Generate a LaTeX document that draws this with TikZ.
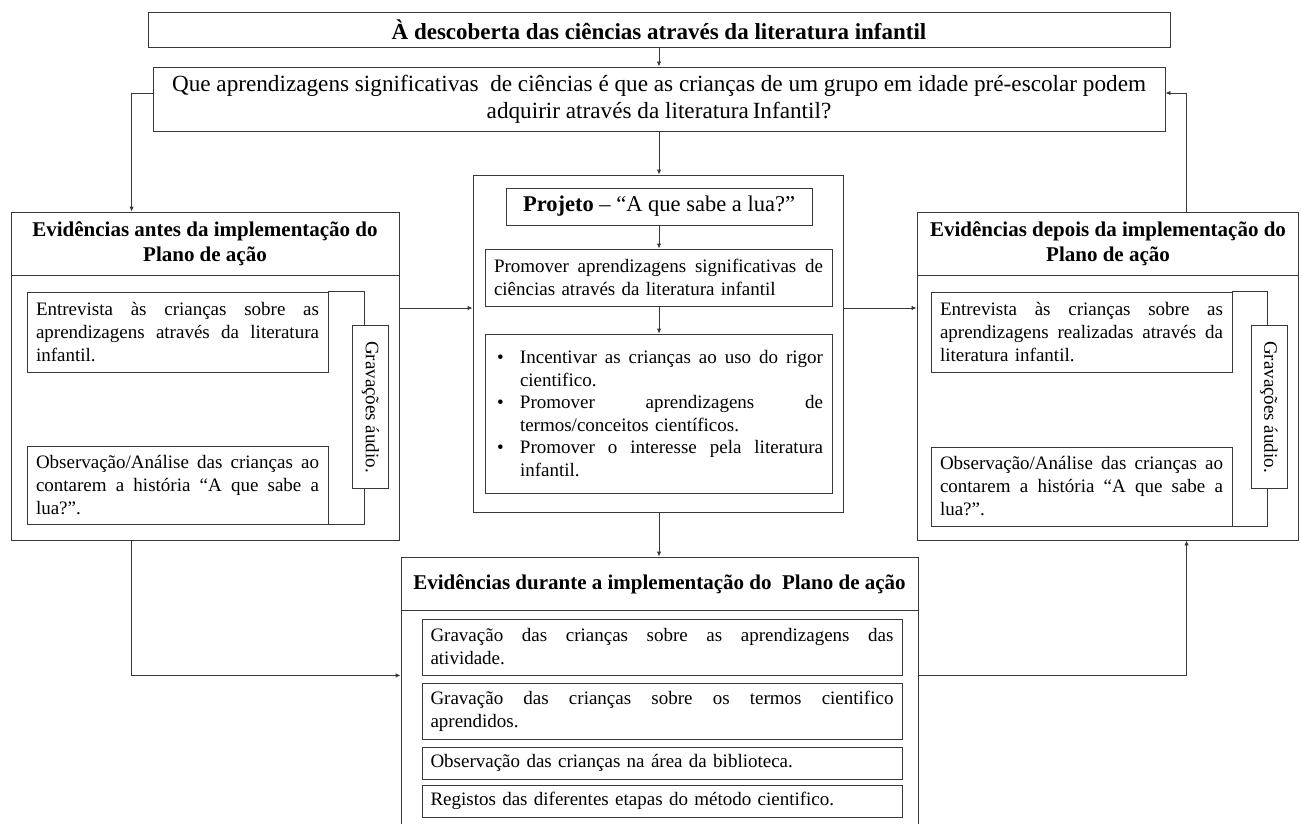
\documentclass[tikz,border=0pt]{standalone}
\usepackage{fontspec}
\setmainfont{Liberation Serif}
\usetikzlibrary{arrows.meta,calc}
\newcommand{\J}[2]{\makebox[#1][s]{\spaceskip=0pt\xspaceskip=0pt\relax #2}}
\begin{document}
\begin{tikzpicture}[x=1pt,y=-1pt,
  line/.style={draw=black!78,line width=0.9pt},
  arr/.style={line,-{Latex[length=5pt,width=4.5pt]}},
  box/.style={line,rectangle,inner sep=0pt,anchor=center},
  body/.style={font=\fontsize{19}{23}\selectfont},
  head/.style={font=\bfseries\fontsize{21}{25}\selectfont,align=center,inner sep=0pt},
  sub/.style={box,fill=white,minimum width=301pt,text width=283pt,align=left,body},
  grav/.style={box,fill=white,minimum width=163pt,minimum height=36pt,rotate=-90,body}
]
\useasboundingbox (0,0) rectangle (1301,824);

% title and question
\node[box,minimum width=1022pt,minimum height=35pt,font=\bfseries\fontsize{23}{27}\selectfont] (title) at (659,29.5) {À descoberta das ciências através da literatura infantil};
\node[box,minimum width=1012pt,minimum height=64pt,align=center,font=\fontsize{23.2}{27}\selectfont] (q) at (659,99)
 {Que aprendizagens significativas~ de ciências é que as crianças de um grupo em idade pré-escolar podem\\adquirir através da literatura\,Infantil?};

% left box
\node[box,minimum width=388pt,minimum height=328pt] (lbox) at (205,376) {};
\node[head] (lhead) at (205,244) {Evidências antes da implementação do\\Plano de ação};
\draw[line] ($(lbox.north west)+(0,64)$) -- ($(lbox.north east)+(0,64)$);
\node[sub,minimum height=80pt] (lent) at (177.5,332)
 {\J{283pt}{Entrevista às crianças sobre as}\\\J{283pt}{aprendizagens através da literatura}\\infantil.};
\node[sub,minimum height=78pt] (lobs) at (177.5,485)
 {\J{283pt}{Observação/Análise das crianças ao}\\\J{283pt}{contarem a história “A que sabe a}\\lua?”.};
\draw[line] (lent.north east) -- ++(36,0) |- (lobs.south east);
\node[grav] (lgrav) at (370.5,407) {Gravações áudio.};

% center box
\node[box,minimum width=370pt,minimum height=337pt] (cbox) at (658,343.5) {};
\node[box,minimum width=306pt,minimum height=37pt,font=\fontsize{22.5}{26}\selectfont] (proj) at (659,206.5) {\textbf{Projeto} – “A que sabe a lua?”};
\node[box,minimum width=347pt,minimum height=57pt,text width=329pt,align=left,body] (prom) at (658.5,277.5)
 {\J{329pt}{Promover aprendizagens significativas de}\\ciências através da literatura infantil};
\node[box,minimum width=347pt,minimum height=159pt,text width=329pt,align=left,font=\fontsize{19}{22.5}\selectfont] (bul) at (658.5,413.5)
 {\hspace*{3pt}\makebox[23pt][l]{•}\J{303pt}{Incentivar as crianças ao uso do rigor}\\
  \hspace*{26pt}cientifico.\\
  \hspace*{3pt}\makebox[23pt][l]{•}\J{303pt}{Promover aprendizagens de}\\
  \hspace*{26pt}termos/conceitos científicos.\\
  \hspace*{3pt}\makebox[23pt][l]{•}\J{303pt}{Promover o interesse pela literatura}\\
  \hspace*{26pt}infantil.};
\draw[arr] (proj.south) -- (prom.north -| proj.south);
\draw[arr] (prom.south -| proj.south) -- (bul.north -| proj.south);

% right box
\node[box,minimum width=381pt,minimum height=328pt] (rbox) at (1107.5,376) {};
\node[head] (rhead) at (1108,244) {Evidências depois da implementação do\\Plano de ação};
\draw[line] ($(rbox.north west)+(0,64)$) -- ($(rbox.north east)+(0,64)$);
\node[sub,minimum height=80pt] (rent) at (1081.5,332)
 {\J{283pt}{Entrevista às crianças sobre as}\\\J{283pt}{aprendizagens realizadas através da}\\literatura infantil.};
\node[sub,minimum height=79pt] (robs) at (1081.5,486.5)
 {\J{283pt}{Observação/Análise das crianças ao}\\\J{283pt}{contarem a história “A que sabe a}\\lua?”.};
\draw[line] (rent.north east) -- ++(35,0) |- (robs.south east);
\node[grav] (rgrav) at (1269,407) {Gravações áudio.};

% bottom box
\node[box,minimum width=517pt,minimum height=273pt] (bbox) at (659.5,693.5) {};
\node[head] (bhead) at (659.5,584) {Evidências durante a implementação do~ Plano de ação};
\draw[line] ($(bbox.north west)+(0,54)$) -- ($(bbox.north east)+(0,54)$);
\node[sub,minimum width=480pt,text width=463pt,minimum height=56pt] (bs1) at (662,647)
 {\J{463pt}{Gravação das crianças sobre as aprendizagens das}\\atividade.};
\node[sub,minimum width=480pt,text width=463pt,minimum height=56pt] (bs2) at (662,711)
 {\J{463pt}{Gravação das crianças sobre os termos cientifico}\\aprendidos.};
\node[sub,minimum width=480pt,text width=463pt,minimum height=32pt] (bs3) at (662,763)
 {Observação das crianças na área da biblioteca.};
\node[sub,minimum width=480pt,text width=463pt,minimum height=32pt] (bs4) at (662,801)
 {Registos das diferentes etapas do método cientifico.};

% connectors
\draw[arr] (title.south -| q.north) -- (q.north);
\draw[arr] ([yshift=6pt]q.west) -| ([xshift=121pt]lbox.north west);
\draw[arr] ([xshift=270pt]rbox.north west) |- ([yshift=6pt]q.east);
\draw[arr] (q.south) -- (cbox.north -| q.south);
\draw[arr] ([yshift=68pt]lbox.east) -- ([yshift=68pt]lbox.east -| cbox.west);
\draw[arr] ([yshift=68pt]lbox.east -| cbox.east) -- ([yshift=68pt]lbox.east -| rbox.west);
\draw[arr] (cbox.south -| q.south) -- (bbox.north -| q.south);
\draw[arr] ([xshift=121pt]lbox.south west) |- (bs1.south -| bbox.west);
\draw[arr] (bs1.south -| bbox.east) -| ([xshift=270pt]rbox.south west);
\end{tikzpicture}
\end{document}
